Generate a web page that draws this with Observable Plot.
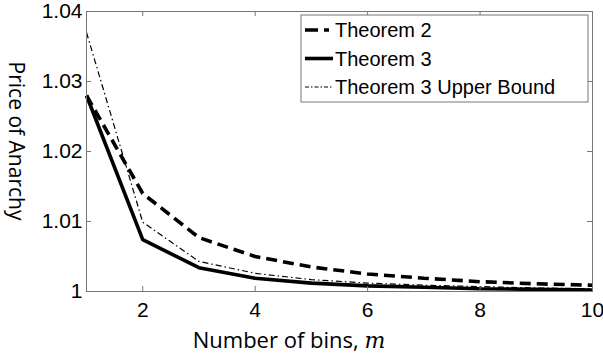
<!DOCTYPE html>
<html>
<head>
<meta charset="utf-8">
<script src="https://cdn.jsdelivr.net/npm/d3@7"></script>
<script src="https://cdn.jsdelivr.net/npm/@observablehq/plot@0.6"></script>
<style>
  html, body { margin: 0; padding: 0; background: #fff; }
  #chart { width: 603px; height: 360px; position: relative; }
</style>
</head>
<body>
<div id="chart"></div>
<script>
// ---- data ----
const bins = [1, 2, 3, 4, 5, 6, 7, 8, 9, 10];
const theorem2 = [1.028, 1.014, 1.0077, 1.0050, 1.0035, 1.0025, 1.0019, 1.0014, 1.0011, 1.0009];
const theorem3 = [1.028, 1.0074, 1.0034, 1.0019, 1.0012, 1.0008, 1.0006, 1.0004, 1.0003, 1.0002];
const theorem3Upper = [1.037, 1.0099, 1.0043, 1.0026, 1.0017, 1.0012, 1.0009, 1.0007, 1.0005, 1.0004];
const seriesNames = ["Theorem 2", "Theorem 3", "Theorem 3 Upper Bound"];
const xTicks = [2, 4, 6, 8, 10];
const yTicks = [1, 1.01, 1.02, 1.03, 1.04];
const yTickLabels = ["1", "1.01", "1.02", "1.03", "1.04"];
const xLabel = "Number of bins, ";
const xLabelVar = "m";
const yLabel = "Price of Anarchy";

// ---- layout ----
const W = 603, H = 360;
const mL = 86, mR = 11, mT = 11, mB = 69;
const plotW = W - mL - mR, plotH = H - mT - mB;
const tickLen = 5;
const axisColor = "#777";
const tickFont = "'Liberation Sans', Arial, sans-serif";
const labelFont = "'Open Sans', 'Noto Sans', sans-serif";

const styles = [
  {strokeWidth: 3.6, strokeDasharray: "11,6"},
  {strokeWidth: 3.6, strokeDasharray: null},
  {strokeWidth: 1.2, strokeDasharray: "6,3,1.5,3"}
];
const legendDash = ["13,6,5,6", null, "4,2,1.5,2"];
const seriesValues = [theorem2, theorem3, theorem3Upper];

const lineMarks = seriesValues.map((vals, i) => {
  const data = bins.map((m, j) => ({m, v: vals[j]}));
  const o = {x: "m", y: "v", stroke: "black", strokeWidth: styles[i].strokeWidth, strokeLinejoin: "miter", strokeLinecap: "butt"};
  if (styles[i].strokeDasharray) o.strokeDasharray = styles[i].strokeDasharray;
  return Plot.line(data, o);
});

const chart = Plot.plot({
  width: W, height: H,
  marginLeft: mL, marginRight: mR, marginTop: mT, marginBottom: mB,
  style: {fontFamily: tickFont, background: "white"},
  x: {domain: [1, 10]},
  y: {domain: [1, 1.04]},
  marks: [
    ...lineMarks,
    Plot.frame({stroke: axisColor, strokeWidth: 1}),
    // inward tick marks, MATLAB style (bottom/top, left/right)
    Plot.tickX(xTicks, {x: d => d, insetTop: plotH - tickLen, stroke: axisColor}),
    Plot.tickX(xTicks, {x: d => d, insetBottom: plotH - tickLen, stroke: axisColor}),
    Plot.tickY(yTicks, {y: d => d, insetRight: plotW - tickLen, stroke: axisColor}),
    Plot.tickY(yTicks, {y: d => d, insetLeft: plotW - tickLen, stroke: axisColor}),
    Plot.axisX(xTicks, {tickSize: 0, tickPadding: 11, fontSize: 21, label: null, fill: "black"}),
    Plot.axisY(yTicks, {tickSize: 0, tickPadding: 4, fontSize: 21, label: null, fill: "black",
      tickFormat: (d) => yTickLabels[yTicks.indexOf(d)]})
  ]
});

document.getElementById("chart").appendChild(chart);

// ---- axis titles and legend ----
const svg = d3.select(chart);
svg.append("text")
  .attr("transform", `translate(15,${mT + plotH / 2 - 10}) rotate(90)`)
  .attr("text-anchor", "middle")
  .attr("dominant-baseline", "middle")
  .attr("font-family", labelFont)
  .attr("font-size", 21)
  .attr("fill", "black")
  .text(yLabel);

const xl = svg.append("text")
  .attr("x", 289).attr("y", 348)
  .attr("text-anchor", "middle")
  .attr("font-family", labelFont)
  .attr("font-size", 22)
  .attr("fill", "black");
xl.append("tspan").text(xLabel);
xl.append("tspan").attr("font-family", "'DejaVu Serif', 'Liberation Serif', serif").attr("font-style", "italic").text(xLabelVar);

const lg = svg.append("g");
lg.append("rect")
  .attr("x", 301).attr("y", 15).attr("width", 287).attr("height", 87)
  .attr("fill", "white").attr("stroke", axisColor).attr("stroke-width", 1);
seriesNames.forEach((name, i) => {
  const y = 30 + i * 28.5;
  lg.append("line")
    .attr("x1", 305).attr("x2", 333).attr("y1", y).attr("y2", y)
    .attr("stroke", "black").attr("stroke-width", styles[i].strokeWidth)
    .attr("stroke-dasharray", legendDash[i]);
  lg.append("text")
    .attr("x", 335).attr("y", y)
    .attr("text-anchor", "start")
    .attr("dominant-baseline", "central")
    .attr("font-family", tickFont)
    .attr("font-size", 20)
    .attr("fill", "black")
    .text(name);
});
</script>
</body>
</html>
